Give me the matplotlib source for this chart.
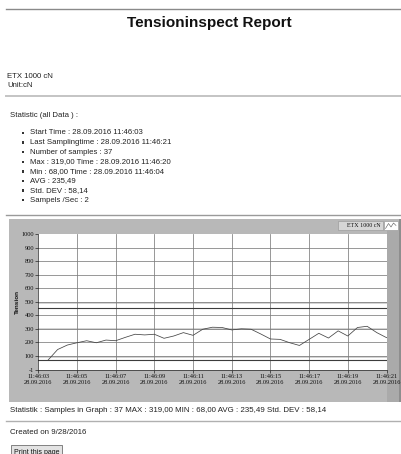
import matplotlib
matplotlib.use("Agg")
import matplotlib.pyplot as plt
import matplotlib.dates as mdates
from matplotlib.patches import Rectangle
from matplotlib.lines import Line2D
import pandas as pd

# ---------------- data ----------------
start_time = "2016-09-28 11:46:03.5"
sample_interval_s = 0.5
tension_values = [68, 147, 180, 197, 212, 197, 217, 212, 237, 260, 255, 260,
                  230, 247, 272, 252, 297, 312, 310, 292, 300, 297, 262, 225,
                  222, 197, 177, 222, 267, 232, 285, 247, 310, 319, 272, 235, 225]
axis_start = "2016-09-28 11:46:03"
axis_end = "2016-09-28 11:46:21"
y_ticks = [-1, 100, 200, 300, 400, 500, 600, 700, 800, 900, 1000]
dark_limits = [455, 72]
light_limits = [488, 300, 92]
series_name = "ETX 1000 cN"

title = "Tensioninspect Report"
device_lines = ["ETX 1000 cN", "Unit:cN"]
stat_header = "Statistic (all Data ) :"
stat_items = [
    "Start Time : 28.09.2016 11:46:03",
    "Last Samplingtime : 28.09.2016 11:46:21",
    "Number of samples : 37",
    "Max : 319,00 Time : 28.09.2016 11:46:20",
    "Min : 68,00 Time : 28.09.2016 11:46:04",
    "AVG : 235,49",
    "Std. DEV : 58,14",
    "Sampels /Sec : 2",
]
graph_stat = "Statistik : Samples in Graph : 37 MAX : 319,00 MIN : 68,00 AVG : 235,49 Std. DEV : 58,14"
created = "Created on 9/28/2016"
button_text = "Print this page"

# ---------------- figure ----------------
W, H = 401, 454
fig = plt.figure(figsize=(W / 100, H / 100), dpi=100)
fig.patch.set_facecolor("white")

def fx(x):
    return x / W

def fy(y):
    return 1 - y / H

def hline(y, x0, x1, color, lw):
    fig.add_artist(Line2D([fx(x0), fx(x1)], [fy(y), fy(y)], color=color, lw=lw,
                          transform=fig.transFigure))

def rect(x0, y0, x1, y1, fc, ec="none", lw=0.0, z=0):
    fig.add_artist(Rectangle((fx(x0), fy(y1)), fx(x1) - fx(x0), fy(y0) - fy(y1),
                             transform=fig.transFigure, facecolor=fc, edgecolor=ec,
                             lw=lw, zorder=z))

body = "Liberation Sans"
small = "Liberation Serif"
txtc = "#222222"

hline(9, 6, 401, "#8a8a8a", 1.0)
fig.text(fx(209), fy(22.5), title, ha="center", va="center", fontsize=11,
         fontweight="bold", family=body, color="#111111")

fig.text(fx(7), fy(76), device_lines[0], ha="left", va="center", fontsize=5.6, family=body, color=txtc)
fig.text(fx(7), fy(85.5), device_lines[1], ha="left", va="center", fontsize=5.6, family=body, color=txtc)
hline(96, 6, 401, "#c4c4c4", 1.4)

fig.text(fx(10), fy(115), stat_header, ha="left", va="center", fontsize=5.6, family=body, color=txtc)
for i, item in enumerate(stat_items):
    yy = 133 + 9.6 * i
    rect(21.5, yy - 1.3, 24.0, yy + 1.2, "#333333")
    fig.text(fx(30), fy(yy), item, ha="left", va="center", fontsize=5.6, family=body, color=txtc)

hline(215, 6, 401, "#9a9a9a", 1.0)

# chart panel
rect(9, 219, 401, 402, "#b8b8b8", z=0)
rect(387, 230, 398.5, 402, "#aaaaaa", z=0)
rect(398.5, 219, 401, 402, "#8e8e8e", z=0)

# legend box
rect(338, 221.2, 383.2, 229.8, "#d6d6d6", ec="#9c9c9c", lw=0.5, z=1)
fig.text(fx(363.5), fy(225.4), series_name, ha="center", va="center",
         fontsize=4.3, family=small, color="#111111", zorder=2)
rect(384, 221.2, 397.5, 229.8, "#ffffff", ec="#9c9c9c", lw=0.5, z=1)
fig.add_artist(Line2D([fx(385.5), fx(388.5), fx(391), fx(393.5), fx(396)],
                      [fy(228.5), fy(223.5), fy(227), fy(223), fy(225.5)],
                      color="#555555", lw=0.4, transform=fig.transFigure, zorder=3))

# plot axes
x_left, x_right, y_top, y_bot = 38.3, 386.5, 234.3, 369.5
ax = fig.add_axes([fx(x_left), fy(y_bot), fx(x_right) - fx(x_left), fy(y_top) - fy(y_bot)])
ax.set_facecolor("white")

times = pd.date_range(start=start_time, periods=len(tension_values),
                      freq=pd.Timedelta(seconds=sample_interval_s))

t0 = pd.Timestamp(axis_start)
t1 = pd.Timestamp(axis_end)
ax.set_xlim(t0, t1)
ax.set_ylim(y_ticks[0], y_ticks[-1])

for v in light_limits:
    ax.axhline(v, color="#c8c8c8", lw=1.1, zorder=1)
for v in y_ticks[1:-1]:
    ax.axhline(v, color="#7c7c7c", lw=0.55, zorder=1.5)
xt = pd.date_range(t0, t1, freq="2s")
for t in xt[1:-1]:
    ax.axvline(t, color="#7c7c7c", lw=0.55, zorder=1.5)
for v in dark_limits:
    ax.axhline(v, color="#3c3c3c", lw=0.8, zorder=2)

ax.plot(times, tension_values, color="#444444", lw=0.55, zorder=3)

ax.set_yticks(y_ticks)
ax.set_yticklabels([str(v) for v in y_ticks])
ax.set_xticks(xt)
ax.xaxis.set_major_formatter(mdates.DateFormatter("%H:%M:%S\n%d.%m.%Y"))
ax.tick_params(axis="both", which="major", length=2, width=0.5, color="#222222",
               labelsize=4.6, pad=1, labelcolor="#111111")
for lab in ax.get_xticklabels() + ax.get_yticklabels():
    lab.set_family(small)
for lab in ax.get_xticklabels():
    lab.set_linespacing(1.25)

for s in ["top", "right"]:
    ax.spines[s].set_visible(False)
ax.spines["left"].set_color("#222222")
ax.spines["bottom"].set_color("#222222")
ax.spines["left"].set_linewidth(0.5)
ax.spines["bottom"].set_linewidth(0.5)

fig.text(fx(17), fy(302), "Tension", rotation=90, ha="center", va="center",
         fontsize=4.6, fontweight="bold", family=body, color="#111111")

# footer
fig.text(fx(10), fy(410), graph_stat, ha="left", va="center", fontsize=5.7, family=body, color=txtc)
hline(421, 6, 401, "#b0b0b0", 1.0)
fig.text(fx(10), fy(432), created, ha="left", va="center", fontsize=5.7, family=body, color=txtc)
rect(11, 445, 62, 458, "#e3e3e3", ec="#707070", lw=0.6, z=1)
fig.text(fx(36.5), fy(452), button_text, ha="center", va="center", fontsize=5.0,
         family=body, color="#111111", zorder=2)

fig.savefig("out.png", dpi=100, facecolor="white")
